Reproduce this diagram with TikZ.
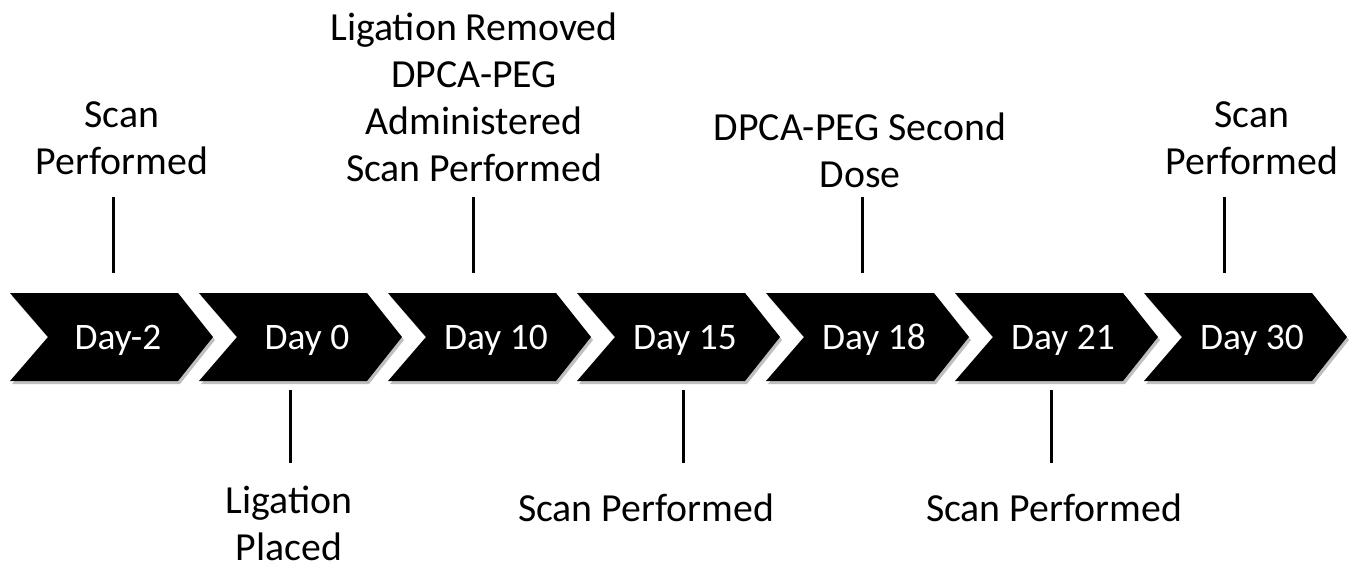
\documentclass[tikz,border=0pt]{standalone}
\usepackage{fontspec}
\setmainfont{Carlito}
\usetikzlibrary{positioning}
\tikzset{dayarrow/.style={fill=black},
  dayshadow/.style={fill=black!25},
  daytext/.style={text=white, anchor=base, font=\fontsize{18.7}{22}\selectfont},
  event/.style={align=center, font=\fontsize{19.9}{23.5}\selectfont},
  stem/.style={black, line width=1.5pt}}

\begin{document}
\begin{tikzpicture} [x=0.5pt, y=-0.5pt]
\useasboundingbox (0,0) rectangle (1357,570);
% chevrons
\foreach \i/\x/\lbl in {1/10/Day-2, 2/199/Day 0, 3/388/Day 10, 4/577/Day 15, 5/766/Day 18, 6/955/Day 21, 7/1144/Day 30} {
 \fill[dayshadow] (\x+2,296) --++(168,0) --++(35,44) --++(-35,44) --++(-168,0) --++(38,-44) -- cycle;
 \fill[dayarrow] (\x,293) --++(168,0) --++(35,44) --++(-35,44) --++(-168,0) --++(38,-44) -- cycle;
 \node[daytext] (day\i) at (\x+108,349) {\lbl};
}
% events
\node[event] (ev1) at (122,138) {Scan\\Performed};
\node[event] (ev2) at (289,523) {Ligation\\Placed};
\node[event] (ev3) at (474,97) {Ligation Removed\\DPCA-PEG\\Administered\\Scan Performed};
\node[event] (ev4) at (646,508) {Scan Performed};
\node[event] (ev5) at (860,150) {DPCA-PEG Second\\Dose};
\node[event] (ev6) at (1054,508) {Scan Performed};
\node[event] (ev7) at (1252,138) {Scan\\Performed};
% stems
\foreach \i/\x in {1/113, 3/473, 5/862, 7/1224} {
 \coordinate (up\i) at (\x,197);
 \coordinate (dn\i) at (\x,273);
 \draw[stem] (up\i) -- (dn\i);
}
\foreach \i/\x in {2/290, 4/683, 6/1051} {
 \coordinate (up\i) at (\x,390);
 \coordinate (dn\i) at (\x,463);
 \draw[stem] (up\i) -- (dn\i);
}
\end{tikzpicture}
\end{document}
